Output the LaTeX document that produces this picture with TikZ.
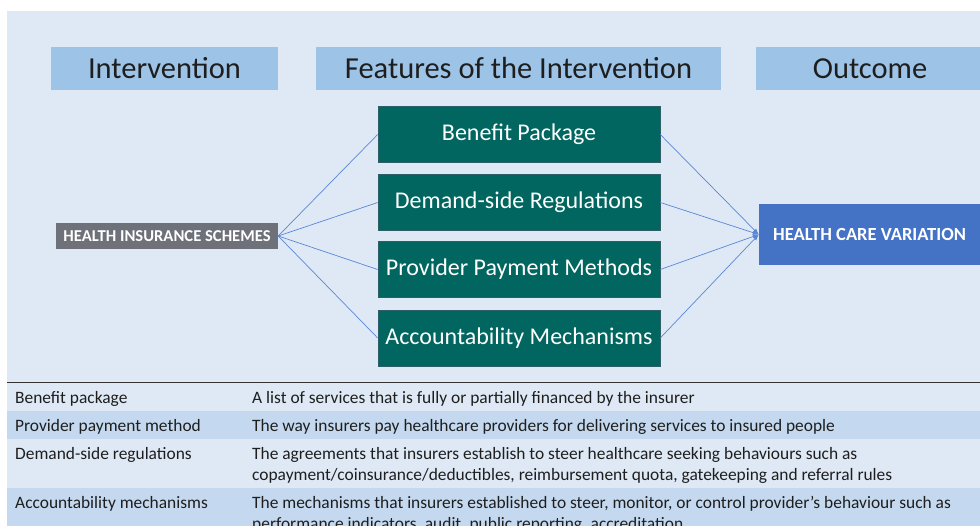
\documentclass[tikz,border=0pt]{standalone}
\usepackage{fontspec}
\setmainfont{Carlito}
\usetikzlibrary{arrows.meta}
\definecolor{panel}{HTML}{DEE9F5}
\definecolor{headfill}{HTML}{9DC3E6}
\definecolor{teal}{HTML}{00665F}
\definecolor{tealedge}{HTML}{2F5F66}
\definecolor{schemegrey}{HTML}{6E7179}
\definecolor{outblue}{HTML}{4472C4}
\definecolor{linkblue}{HTML}{5A86D6}
\definecolor{rowdark}{HTML}{C4D9EF}
\definecolor{inktext}{HTML}{1E1E1E}
\tikzset{
  headbox/.style={fill=headfill, minimum height=43pt, inner sep=0pt,
    text=inktext, font=\fontsize{30.5}{34}\selectfont},
  featbox/.style={fill=teal, draw=tealedge, line width=0.6pt,
    minimum width=282pt, minimum height=56pt, inner sep=0pt,
    text=white, font=\fontsize{24}{28}\selectfont},
  link/.style={draw=linkblue, line width=0.7pt},
  arrowlink/.style={link, -{Latex[length=6pt,width=4.5pt]}},
  celltext/.style={anchor=base west, inner sep=0pt, text=inktext,
    font=\fontsize{17.4}{20}\selectfont},
}
\begin{document}
\begin{tikzpicture}[x=1pt, y=-1pt]
  \useasboundingbox (0,0) rectangle (980,526);
  \fill[white] (0,0) rectangle (980,526);
  \fill[panel] (7,11) rectangle (980,526);

  % column headings
  \node[headbox, minimum width=227pt] (hint) at (164.5,68.5) {Intervention};
  \node[headbox, minimum width=405pt] (hfeat) at (518.5,68.5) {Features of the Intervention};
  \node[headbox, minimum width=228pt] (hout) at (870,68.5) {Outcome};

  % intervention and outcome
  \node[fill=schemegrey, minimum width=222pt, minimum height=26pt, inner sep=0pt,
        text=white, font=\bfseries\fontsize{16.6}{19}\selectfont] (his) at (167,236)
        {HEALTH INSURANCE SCHEMES};
  \node[fill=outblue, minimum width=221pt, minimum height=61pt, inner sep=0pt,
        text=white, font=\bfseries\fontsize{18.5}{21}\selectfont] (hcv) at (869.5,234.5)
        {HEALTH CARE VARIATION};

  % features
  \node[featbox] (benefit) at (519,134.5) {Benefit Package};
  \node[featbox] (demand) at (519,202.5) {Demand-side Regulations};
  \node[featbox] (payment) at (519,269.5) {Provider Payment Methods};
  \node[featbox] (account) at (519,338) {Accountability Mechanisms};

  % connectors
  \foreach \f in {benefit,demand,payment,account}{
    \draw[link] (his.east) -- (\f.west);
    \draw[arrowlink] (\f.east) -- (hcv.west);
  }

  % definitions table
  \fill[rowdark] (7,411) rectangle (980,439);
  \fill[rowdark] (7,488) rectangle (980,526);
  \draw[line width=1pt, draw=black!80] (7,383) -- (980,383);

  \node[celltext] (t1a) at (15,403.5) {Benefit package};
  \node[celltext] (t1b) at (252,403.5) {A list of services that is fully or partially financed by the insurer};
  \node[celltext] (t2a) at (15,431.5) {Provider payment method};
  \node[celltext] (t2b) at (252,431.5) {The way insurers pay healthcare providers for delivering services to insured people};
  \node[celltext] (t3a) at (15,459) {Demand-side regulations};
  \node[celltext] (t3b) at (252,459) {The agreements that insurers establish to steer healthcare seeking behaviours such as};
  \node[celltext] (t3c) at (252,480) {copayment/coinsurance/deductibles, reimbursement quota, gatekeeping and referral rules};
  \node[celltext] (t4a) at (15,508) {Accountability mechanisms};
  \node[celltext] (t4b) at (252,508) {The mechanisms that insurers established to steer, monitor, or control provider’s behaviour such as};
  \node[celltext] (t4c) at (252,529) {performance indicators, audit, public reporting, accreditation};
\end{tikzpicture}
\end{document}
